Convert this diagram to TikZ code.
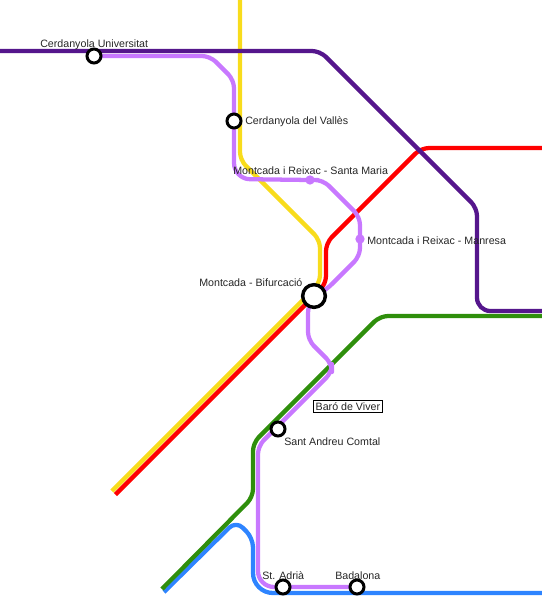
\documentclass[tikz,border=0pt]{standalone}
\usepackage{fontspec}
\setmainfont{Liberation Sans}
\begin{document}
\begin{tikzpicture}[x=0.75pt,y=-0.75pt,
  metro/.style={line width=3.2pt,line join=round},
  stn/.style={circle,draw=black,fill=white,line width=2.25pt,inner sep=0pt,minimum size=10.5pt},
  hub/.style={circle,draw=black,fill=white,line width=2.6pt,inner sep=0pt,minimum size=17pt},
  dotstn/.style={circle,fill=lila,inner sep=0pt,minimum size=7pt},
  lbl/.style={font=\fontsize{8pt}{9pt}\selectfont,text=black!85,inner sep=0pt,anchor=west},
  boxlbl/.style={lbl,draw=black,fill=white,line width=0.75pt,inner xsep=2pt,inner ysep=1.5pt}]
\definecolor{lila}{HTML}{C878FF}
\definecolor{groc}{HTML}{F8DC1C}
\definecolor{verm}{HTML}{FF0000}
\definecolor{mora}{HTML}{55168C}
\definecolor{verd}{HTML}{2F8F0C}
\definecolor{blau}{HTML}{2E84FF}
\useasboundingbox (0,0) rectangle (542,615);
\coordinate (cU) at (94,56);
\coordinate (cV) at (234,121);
\coordinate (mSM) at (310,180);
\coordinate (mM) at (360,239);
\coordinate (mB) at (314,296);
\coordinate (sAC) at (278,429);
\coordinate (sA) at (283,587);
\coordinate (bad) at (357,587);
\coordinate (yS) at (240,0);
\coordinate (yE) at (112,491);
\coordinate (rS) at (115.5,494.5);
\coordinate (rE) at (542,148);
\coordinate (dS) at (0,51);
\coordinate (dE) at (542,311);
\coordinate (gS) at (162,589);
\coordinate (gE) at (542,316);
\coordinate (bS) at (164,592);
\coordinate (bE) at (542,593);
% lines
\draw[metro,groc,rounded corners=6pt] (yS) -- (240,160) -- (320,240) -- (320,283) -- (yE);
\draw[metro,blau] (bS) [rounded corners=7pt] -- (236,521) -- (253,538) [rounded corners=15pt] -- (253,593) -- (bE);
\draw[metro,verd,rounded corners=6pt] (gS) -- (253,497) -- (253,443) -- (380,316) -- (gE);
\draw[metro,verm,rounded corners=6pt] (rS) -- (326,284) -- (326,243) -- (421,148) -- (rE);
\draw[metro,mora,rounded corners=6pt] (dS) -- (320,51) -- (477,208) [rounded corners=10pt] -- (477,311) -- (dE);
\draw[metro,lila,rounded corners=6pt] (cU) -- (210,56) -- (234,80) [rounded corners=12pt] -- (cV) -- (234,179) [rounded corners=6pt] -- (mSM) -- (323,180) -- (360,217) -- (mM) -- (360,256) -- (326,290) -- (mB);
\draw[metro,lila,rounded corners=6pt] (mB) -- (308,305) -- (308,340) -- (332,364) -- (332,372) -- (258,446) [rounded corners=12pt] -- (258,587) -- (bad);
% stations
\node[stn] (nU) at (cU) {};
\node[stn] (nV) at (cV) {};
\node[dotstn] (nSM) at (mSM) {};
\node[dotstn] (nM) at (mM) {};
\node[hub] (nB) at (mB) {};
\node[stn] (nAC) at (sAC) {};
\node[stn] (nA) at (sA) {};
\node[stn] (nBd) at (bad) {};
% labels
\node[lbl] (tU) at (40,45) {Cerdanyola Universitat};
\node[lbl] (tV) at (245,122) {Cerdanyola del Vallès};
\node[lbl] (tSM) at (233,170.5) {Montcada i Reixac - Santa Maria};
\node[lbl] (tM) at (367,240.5) {Montcada i Reixac - Manresa};
\node[lbl] (tB) at (199,282.5) {Montcada - Bifurcació};
\node[boxlbl] (tBV) at (312.5,406.5) {Baró de Viver};
\node[lbl] (tAC) at (284,442) {Sant Andreu Comtal};
\node[lbl] (tA) at (262,575.5) {St. Adrià};
\node[lbl] (tBd) at (335,575.5) {Badalona};
\end{tikzpicture}
\end{document}
